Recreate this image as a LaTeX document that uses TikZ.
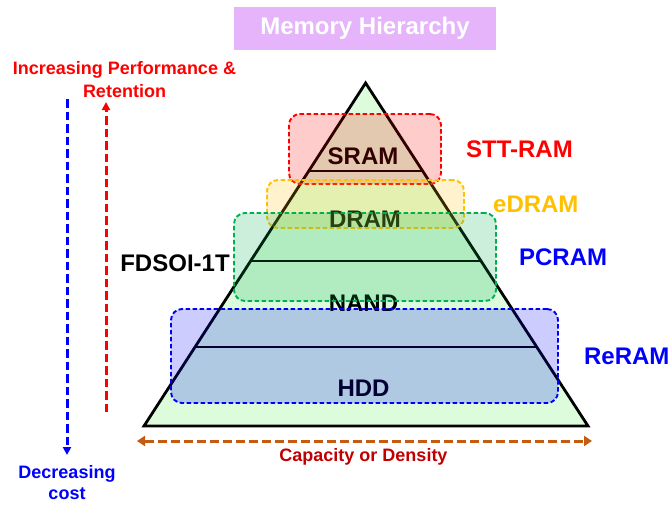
\documentclass[tikz,border=0pt]{standalone}
\usepackage{fontspec}
\setmainfont{Liberation Sans}
\usetikzlibrary{arrows.meta,calc,positioning}

\definecolor{lilac}{HTML}{E5B4FA}
\definecolor{mintfill}{HTML}{DCFCDC}
\definecolor{sttred}{HTML}{FF0000}
\definecolor{edramgold}{HTML}{FFC000}
\definecolor{pcmgreen}{HTML}{00B050}
\definecolor{reblue}{HTML}{0000FF}
\definecolor{capbrown}{HTML}{C55A11}
\definecolor{capred}{HTML}{C00000}

\begin{document}
\begin{tikzpicture}[x=1pt, y=-1pt,
   every node/.style={inner sep=0pt},
   big/.style={font=\fontsize{24}{26}\bfseries\selectfont},
   side/.style={font=\fontsize{18}{22.5}\bfseries\selectfont, align=center},
   techbox/.style={draw=#1, fill=#1, fill opacity=0.2, draw opacity=1,
                   line width=1.9pt, dash pattern=on 4.5pt off 2.5pt,
                   rounded corners=11pt},
   trend/.style={line width=3pt, dash pattern=on 8.5pt off 4pt,
                 -{Triangle[length=8pt,width=8pt]}},
   divider/.style={line width=2.3pt}]

\useasboundingbox (0,0) rectangle (669,504);

% title
\node[big, fill=lilac, text=white, minimum width=262pt, minimum height=43pt]
   (title) at (365,28.5) {Memory Hierarchy};

% pyramid and its layers
\coordinate (apex) at (365.6,83);
\coordinate (bl) at (144,426);
\coordinate (br) at (588,426);
\draw[line width=2.8pt, fill=mintfill, line join=miter] (apex) -- (bl) -- (br) -- cycle;
\draw[divider] ($(apex)!0.256!(bl)$) -- ($(apex)!0.256!(br)$);
\draw[divider] ($(apex)!0.519!(bl)$) -- ($(apex)!0.519!(br)$);
\draw[divider] ($(apex)!0.770!(bl)$) -- ($(apex)!0.770!(br)$);

\node[big] (sram) at (363,156) {SRAM};
\node[big] (dram) at (365,219) {DRAM};
\node[big] (nand) at (363.5,303) {NAND};
\node[big] (hdd) at (363.5,388) {HDD};
\node[big] (fdsoi) at (175,263) {FDSOI-1T};

% emerging technologies laid over the layers
\node[techbox=sttred, minimum width=152pt, minimum height=70pt] (sttbox) at (365,149) {};
\node[techbox=edramgold, minimum width=197pt, minimum height=48pt] (edrambox) at (365.5,204) {};
\node[techbox=pcmgreen, minimum width=262pt, minimum height=88pt] (pcmbox) at (365,257) {};
\node[techbox=reblue, minimum width=387pt, minimum height=94pt] (rebox) at (364.5,356) {};

\node[big, text=sttred, right=24pt of sttbox] (stt) {STT-RAM};
\node[big, text=edramgold, right=28pt of edrambox] (edram) {eDRAM};
\node[big, text=reblue, right=22pt of pcmbox] (pcram) {PCRAM};
\node[big, text=reblue, right=25pt of rebox] (reram) {ReRAM};

% trends
\node[side, text=sttred] (perf) at (124.5,79.5) {Increasing Performance \&\\Retention};
\coordinate (perfbot) at (106,412);
\coordinate (perftop) at (106,102);
\draw[trend, sttred] (perfbot) -- (perftop);

\coordinate (costtop) at (67,99);
\coordinate (costbot) at (67,455);
\draw[trend, reblue] (costtop) -- (costbot);
\node[side, text=reblue, font=\fontsize{18}{21}\bfseries\selectfont] (cost) at (67,483) {Decreasing\\cost};

\coordinate (capleft) at (137,441);
\coordinate (capright) at (592,441);
\draw[capbrown, line width=3pt, dash pattern=on 9pt off 4pt,
      {Triangle[length=8pt,width=10pt]}-{Triangle[length=8pt,width=10pt]}] (capleft) -- (capright);
\node[side, text=capred] (cap) at (363.5,457) {Capacity or Density};

\end{tikzpicture}
\end{document}
